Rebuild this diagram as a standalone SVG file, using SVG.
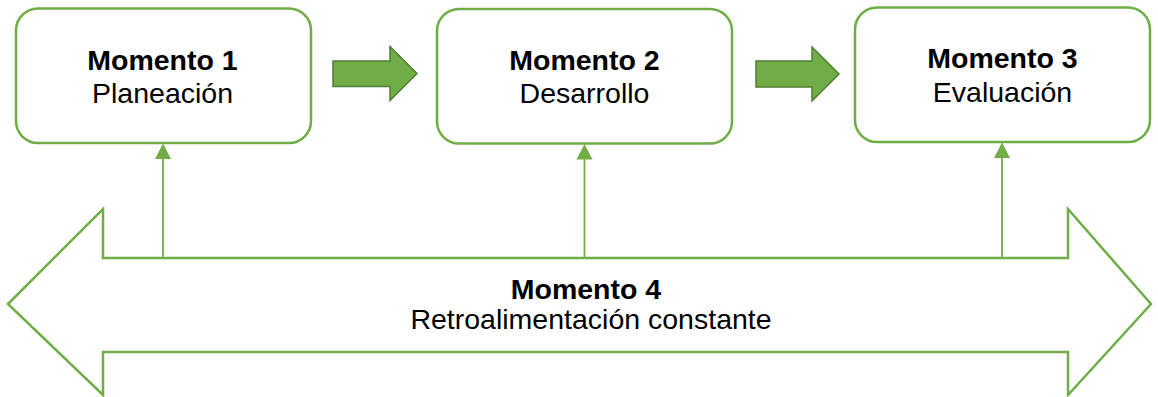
<svg xmlns="http://www.w3.org/2000/svg" width="1158" height="397" viewBox="0 0 1158 397">
  <style>
    .box { fill: #ffffff; stroke: #70ad47; stroke-width: 2.5; }
    .fat { fill: #70ad47; stroke: #507e32; stroke-width: 1.5; stroke-linejoin: miter; }
    .big { fill: #ffffff; stroke: #70ad47; stroke-width: 2.5; stroke-linejoin: miter; }
    .conn { stroke: #70ad47; stroke-width: 1.8; fill: none; }
    .head { fill: #70ad47; stroke: none; }
    text { font-family: "Liberation Sans", Arial, sans-serif; font-size: 28.5px; fill: #000000; text-anchor: middle; }
    .b { font-weight: bold; }
  </style>

  <g id="momento4">
    <path class="big" d="M8,304 L103,209 L103,258 L1068,258 L1068,209 L1151,304 L1068,395 L1068,352 L103,352 L103,395 Z"/>
    <text x="586" y="299" class="b">Momento 4</text>
    <text x="591" y="329">Retroalimentación constante</text>
  </g>

  <g id="connectors">
    <line class="conn" x1="163" y1="257" x2="163" y2="158"/>
    <polygon class="head" points="163,143.5 171,159 155,159"/>
    <line class="conn" x1="584.5" y1="257" x2="584.5" y2="158"/>
    <polygon class="head" points="584.5,144 592.5,159.5 576.5,159.5"/>
    <line class="conn" x1="1002" y1="257" x2="1002" y2="157"/>
    <polygon class="head" points="1002,142.5 1010,158 994,158"/>
    <path class="fat" d="M333,61 L390,61 L390,46.5 L417,73.5 L390,100.5 L390,86.5 L333,86.5 Z"/>
    <path class="fat" d="M756,61 L812,61 L812,47 L839,74 L812,101 L812,87 L756,87 Z"/>
  </g>

  <g id="momento1">
    <rect class="box" x="16" y="8.5" width="295" height="134.5" rx="22" ry="22"/>
    <text x="162.5" y="70" class="b">Momento 1</text>
    <text x="162.5" y="103">Planeación</text>
  </g>

  <g id="momento2">
    <rect class="box" x="437" y="9" width="295" height="134.5" rx="22" ry="22"/>
    <text x="584.5" y="70" class="b">Momento 2</text>
    <text x="584.5" y="103">Desarrollo</text>
  </g>

  <g id="momento3">
    <rect class="box" x="855" y="7.5" width="295" height="134.5" rx="22" ry="22"/>
    <text x="1002.5" y="68" class="b">Momento 3</text>
    <text x="1002.5" y="102">Evaluación</text>
  </g>
</svg>
